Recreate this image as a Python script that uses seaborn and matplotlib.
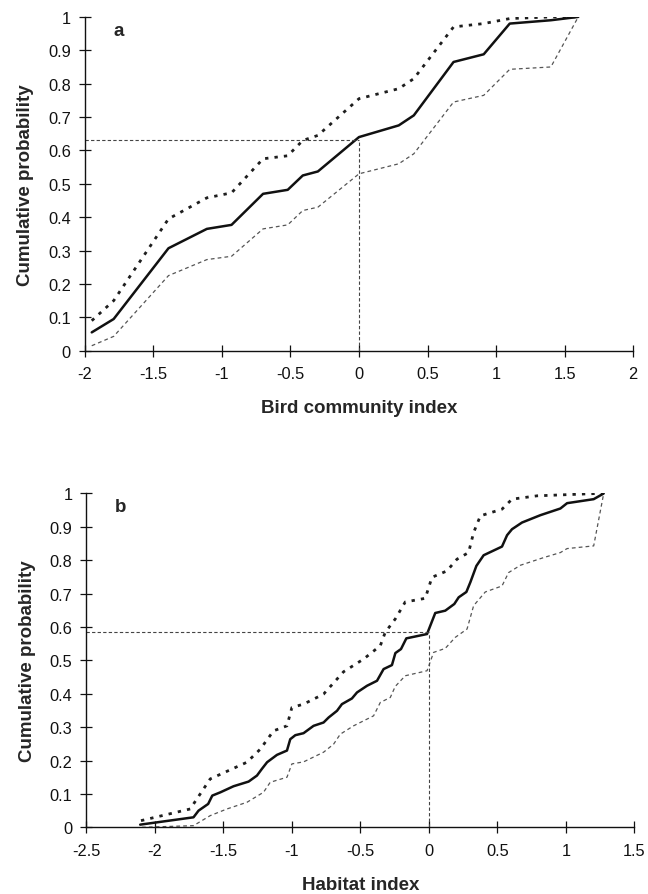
import numpy as np
import pandas as pd
import seaborn as sns
import matplotlib.pyplot as plt
from matplotlib.ticker import FuncFormatter, MultipleLocator

# Panel a: bird community index
a_x = [-1.95, -1.79, -1.39, -1.11, -0.93, -0.70, -0.52, -0.41, -0.30, 0.0,
       0.29, 0.40, 0.69, 0.91, 1.10, 1.40, 1.60]
a_mid = [0.055, 0.095, 0.307, 0.365, 0.377, 0.47, 0.482, 0.525, 0.537, 0.64,
         0.675, 0.705, 0.865, 0.888, 0.98, 0.99, 1.0]
a_up = [0.09, 0.15, 0.395, 0.458, 0.473, 0.575, 0.584, 0.63, 0.645, 0.755,
        0.785, 0.815, 0.97, 0.98, 0.995, 1.0, 1.0]
a_lo = [0.015, 0.043, 0.225, 0.273, 0.283, 0.365, 0.377, 0.42, 0.43, 0.53,
        0.56, 0.59, 0.745, 0.765, 0.843, 0.85, 1.0]
a_ref = 0.63

# Panel b: habitat index
b_mid_x = [-2.106, -1.717, -1.68, -1.61, -1.58, -1.52, -1.425, -1.315, -1.254, -1.218,
           -1.18, -1.108, -1.035, -1.011, -0.974, -0.914, -0.841, -0.768, -0.731, -0.67,
           -0.634, -0.561, -0.524, -0.451, -0.378, -0.33, -0.269, -0.244, -0.203, -0.164,
           -0.013, 0.047, 0.12, 0.186, 0.218, 0.274, 0.303, 0.347, 0.40, 0.534,
           0.571, 0.607, 0.68, 0.814, 0.96, 1.009, 1.203, 1.276]
b_mid_y = [0.008, 0.03, 0.05, 0.07, 0.095, 0.105, 0.123, 0.137, 0.155, 0.175,
           0.195, 0.217, 0.23, 0.264, 0.276, 0.282, 0.304, 0.314, 0.329, 0.349,
           0.369, 0.386, 0.404, 0.424, 0.439, 0.474, 0.486, 0.522, 0.534, 0.566,
           0.579, 0.642, 0.649, 0.669, 0.689, 0.705, 0.734, 0.783, 0.815, 0.841,
           0.875, 0.893, 0.913, 0.935, 0.955, 0.971, 0.983, 1.0]
b_up_x = [-2.10, -1.741, -1.595, -1.327, -1.23, -1.133, -1.035, -0.999, -0.914, -0.768,
          -0.67, -0.622, -0.476, -0.354, -0.318, -0.245, -0.172, -0.026, 0.023, 0.132,
          0.205, 0.29, 0.327, 0.376, 0.534, 0.607, 0.79, 1.228, 1.276]
b_up_y = [0.02, 0.055, 0.145, 0.195, 0.234, 0.289, 0.304, 0.359, 0.369, 0.399,
          0.444, 0.466, 0.504, 0.544, 0.584, 0.624, 0.675, 0.686, 0.749, 0.768,
          0.803, 0.823, 0.883, 0.933, 0.953, 0.983, 0.993, 1.0, 1.0]
b_lo_x = [-2.093, -1.717, -1.595, -1.473, -1.327, -1.206, -1.157, -1.035, -0.999, -0.914,
          -0.768, -0.695, -0.646, -0.549, -0.403, -0.354, -0.281, -0.245, -0.172, -0.013,
          0.035, 0.12, 0.193, 0.279, 0.327, 0.412, 0.534, 0.582, 0.668, 0.838,
          0.96, 1.009, 1.203, 1.276]
b_lo_y = [0.0, 0.005, 0.035, 0.055, 0.075, 0.105, 0.135, 0.15, 0.19, 0.196,
          0.225, 0.249, 0.279, 0.304, 0.334, 0.374, 0.389, 0.422, 0.454, 0.469,
          0.524, 0.536, 0.569, 0.594, 0.664, 0.705, 0.723, 0.763, 0.785, 0.808,
          0.823, 0.835, 0.843, 1.0]
b_ref = 0.585

sns.set_style("ticks")
plt.rcParams['font.family'] = ['Liberation Sans', 'DejaVu Sans']
plt.rcParams['axes.unicode_minus'] = False

fig = plt.figure(figsize=(6.48, 8.95), dpi=100)
ax_a = fig.add_axes([0.131, 0.607, 0.846, 0.373])
ax_b = fig.add_axes([0.133, 0.0745, 0.846, 0.373])


def fmt(v, p):
    s = f"{v:g}"
    return "0" if s == "-0" else s


def draw(ax, mx, my, ux, uy, lx, ly, ref, xlim, xlabel, letter):
    sns.lineplot(x=lx, y=ly, ax=ax, color="#555555", lw=0.9, linestyle=(0, (3, 2.5)),
                 estimator=None, sort=False)
    sns.lineplot(x=ux, y=uy, ax=ax, color="#1e1e1e", lw=2.0, linestyle=(0, (1.2, 2.2)),
                 estimator=None, sort=False)
    sns.lineplot(x=mx, y=my, ax=ax, color="#111111", lw=1.8,
                 estimator=None, sort=False)
    # reference lines at zero
    ax.plot([xlim[0], 0], [ref, ref], color="#444444", lw=0.8, linestyle=(0, (3, 2)))
    ax.plot([0, 0], [0, ref], color="#444444", lw=0.8, linestyle=(0, (3, 2)))

    ax.set_xlim(*xlim)
    ax.set_ylim(0, 1)
    ax.xaxis.set_major_locator(MultipleLocator(0.5))
    ax.yaxis.set_major_locator(MultipleLocator(0.1))
    ax.xaxis.set_major_formatter(FuncFormatter(fmt))
    ax.yaxis.set_major_formatter(FuncFormatter(fmt))
    ax.tick_params(direction="inout", length=8, width=0.9, labelsize=11.8,
                   colors="#111111")
    ax.tick_params(axis="x", pad=7)
    ax.tick_params(axis="y", pad=6)
    for side in ["top", "right"]:
        ax.spines[side].set_visible(False)
    for side in ["left", "bottom"]:
        ax.spines[side].set_linewidth(1.0)
        ax.spines[side].set_color("#111111")
    ax.set_xlabel(xlabel, fontsize=13.5, fontweight="bold", labelpad=13)
    ax.set_ylabel("Cumulative probability", fontsize=13.5, fontweight="bold", labelpad=10)
    ax.text(0.052, 0.985, letter, transform=ax.transAxes, fontsize=13.5,
            fontweight="bold", va="top")


draw(ax_a, a_x, a_mid, a_x, a_up, a_x, a_lo, a_ref, (-2, 2),
     "Bird community index", "a")
draw(ax_b, b_mid_x, b_mid_y, b_up_x, b_up_y, b_lo_x, b_lo_y, b_ref, (-2.5, 1.5),
     "Habitat index", "b")

fig.savefig("out.png", dpi=100)
